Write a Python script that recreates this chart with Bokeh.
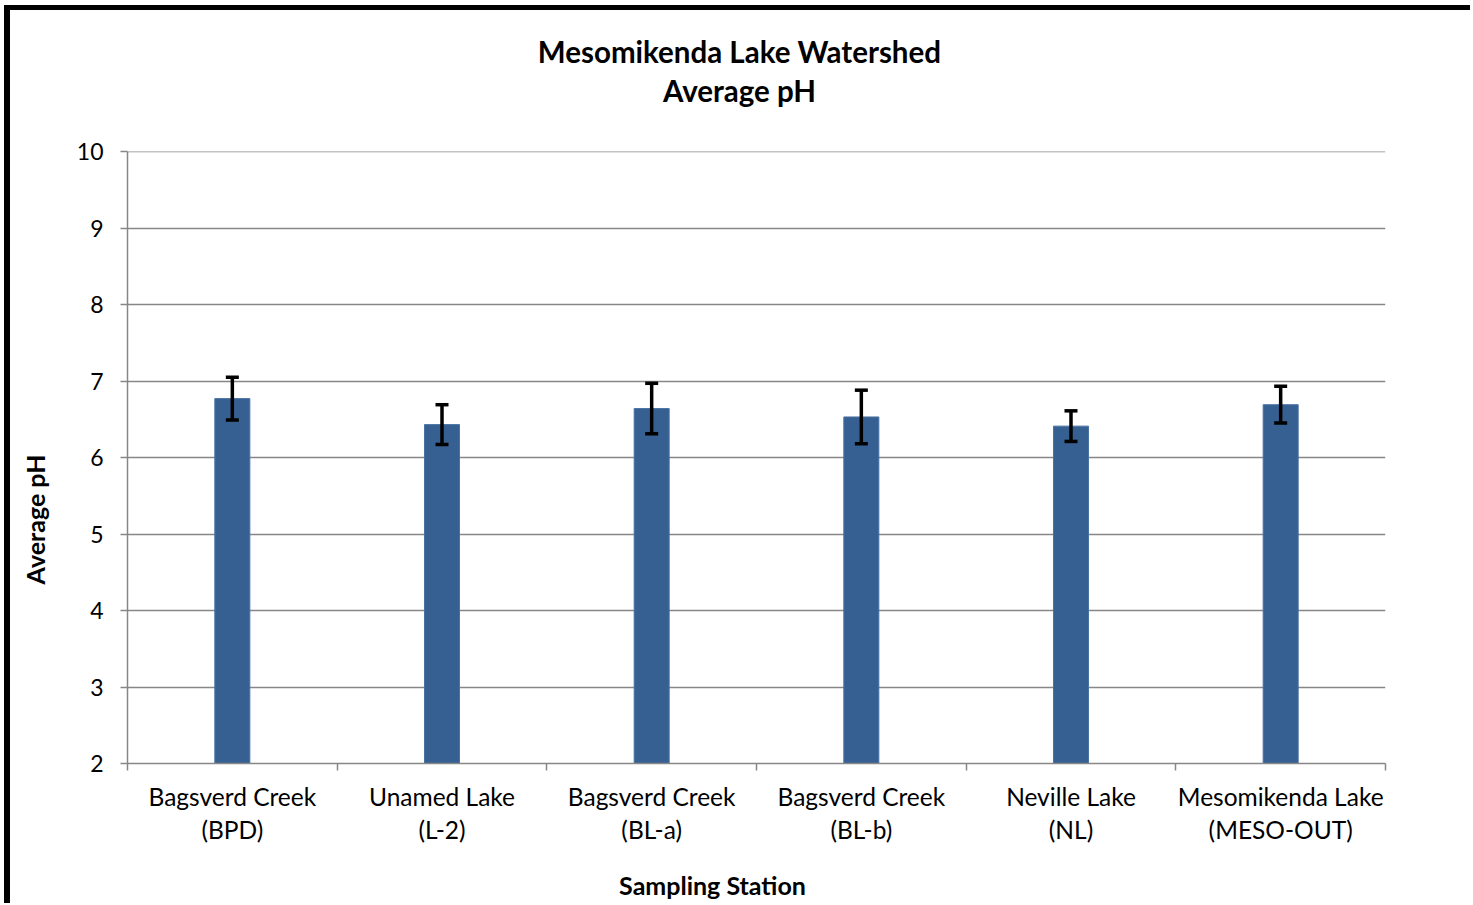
import math
from bokeh.plotting import figure
from bokeh.models import Range1d, FixedTicker, Whisker, TeeHead, ColumnDataSource, Span, Label
from bokeh.layouts import column, row
from bokeh.embed import file_html
from bokeh.resources import INLINE

stations = ["Bagsverd Creek\n(BPD)", "Unamed Lake\n(L-2)", "Bagsverd Creek\n(BL-a)",
            "Bagsverd Creek\n(BL-b)", "Neville Lake\n(NL)", "Mesomikenda Lake\n(MESO-OUT)"]
avg_ph = [6.77, 6.43, 6.64, 6.53, 6.41, 6.69]
ph_err = [0.28, 0.26, 0.33, 0.35, 0.20, 0.24]
y_ticks = [2, 3, 4, 5, 6, 7, 8, 9, 10]
title_lines = ["Mesomikenda Lake Watershed", "Average pH"]
x_title = "Sampling Station"
y_title = "Average pH"

FONT = "Lato"
TOTAL_W = 1460
TITLE_H = 120
MAIN_H = 720
XLAB_H = 53
YLAB_W = 60

n = len(stations)
centers = [i + 0.5 for i in range(n)]
bounds = list(range(n + 1))


def text_panel(w, h):
    f = figure(width=w, height=h, output_backend="svg", toolbar_location=None,
               x_range=Range1d(0, 1), y_range=Range1d(0, 1),
               x_axis_location=None, y_axis_location=None, min_border=0)
    f.outline_line_color = None
    f.grid.visible = False
    f.background_fill_color = "white"
    f.border_fill_color = "white"
    return f


def bold_label(x, y, txt, size, angle=0.0):
    return Label(x=x, y=y, x_units="screen", y_units="screen", text=txt, angle=angle,
                 text_font=FONT, text_font_style="bold", text_font_size=size,
                 text_align="center", text_baseline="middle", text_color="black")


# ---- title panel
tp = text_panel(TOTAL_W, TITLE_H)
for txt, yy in zip(title_lines, [79, 40]):
    tp.add_layout(bold_label(729, yy, txt, "29.5px"))

# ---- y-axis title panel (its frame is aligned with the main plot frame in the row)
yp = text_panel(YLAB_W, MAIN_H)
yp.add_layout(bold_label(24, 244, y_title, "25px", angle=math.pi / 2))

# ---- x-axis title panel
xp = text_panel(TOTAL_W, XLAB_H)
xp.add_layout(bold_label(702, 19, x_title, "25px"))

# ---- main chart
src = ColumnDataSource(dict(x=centers, top=avg_ph,
                            upper=[v + e for v, e in zip(avg_ph, ph_err)],
                            lower=[v - e for v, e in zip(avg_ph, ph_err)]))

p = figure(width=TOTAL_W - YLAB_W, height=MAIN_H, output_backend="svg", toolbar_location=None,
           x_range=Range1d(0, n), y_range=Range1d(y_ticks[0], y_ticks[-1]),
           min_border_left=57, min_border_right=85, min_border_top=21, min_border_bottom=87)
p.outline_line_color = None
p.background_fill_color = "white"
p.border_fill_color = "white"

p.vbar(x="x", top="top", bottom=y_ticks[0], width=0.167, source=src,
       fill_color="#376092", line_color="#4a72a3", line_width=1)

wh = Whisker(base="x", upper="upper", lower="lower", source=src, level="overlay",
             line_color="black", line_width=3.5,
             upper_head=TeeHead(size=13, line_width=3.5, line_color="black"),
             lower_head=TeeHead(size=13, line_width=3.5, line_color="black"))
p.add_layout(wh)

gray = "#878787"
p.xgrid.visible = False
p.ygrid.ticker = FixedTicker(ticks=y_ticks)
p.ygrid.grid_line_color = gray
p.ygrid.grid_line_width = 1.5
p.add_layout(Span(location=y_ticks[-1], dimension="width", line_color=gray, line_width=1.5))

ya = p.yaxis[0]
ya.ticker = FixedTicker(ticks=y_ticks, minor_ticks=[])
ya.axis_line_color = gray
ya.axis_line_width = 1.5
ya.major_tick_line_color = gray
ya.major_tick_line_width = 1.5
ya.major_tick_out = 7
ya.major_tick_in = 0
ya.minor_tick_line_color = None
ya.major_label_text_font = FONT
ya.major_label_text_font_size = "23px"
ya.major_label_text_color = "black"
ya.major_label_standoff = 17

xa = p.xaxis[0]
xa.ticker = FixedTicker(ticks=centers, minor_ticks=bounds)
xa.major_label_overrides = {c: s for c, s in zip(centers, stations)}
xa.axis_line_color = gray
xa.axis_line_width = 1.5
xa.major_tick_out = 0
xa.major_tick_in = 0
xa.minor_tick_line_color = gray
xa.minor_tick_line_width = 1.5
xa.minor_tick_out = 7
xa.minor_tick_in = 0
xa.major_label_text_font = FONT
xa.major_label_text_font_size = "24.5px"
xa.major_label_text_color = "black"
xa.major_label_text_line_height = 1.15
xa.major_label_standoff = 11

layout = column(tp, row(yp, p), xp,
                styles={"margin-left": "4px", "margin-top": "5px",
                        "border-left": "6px solid black", "border-top": "5px solid black"})

open("out.html", "w").write(file_html(layout, INLINE))
